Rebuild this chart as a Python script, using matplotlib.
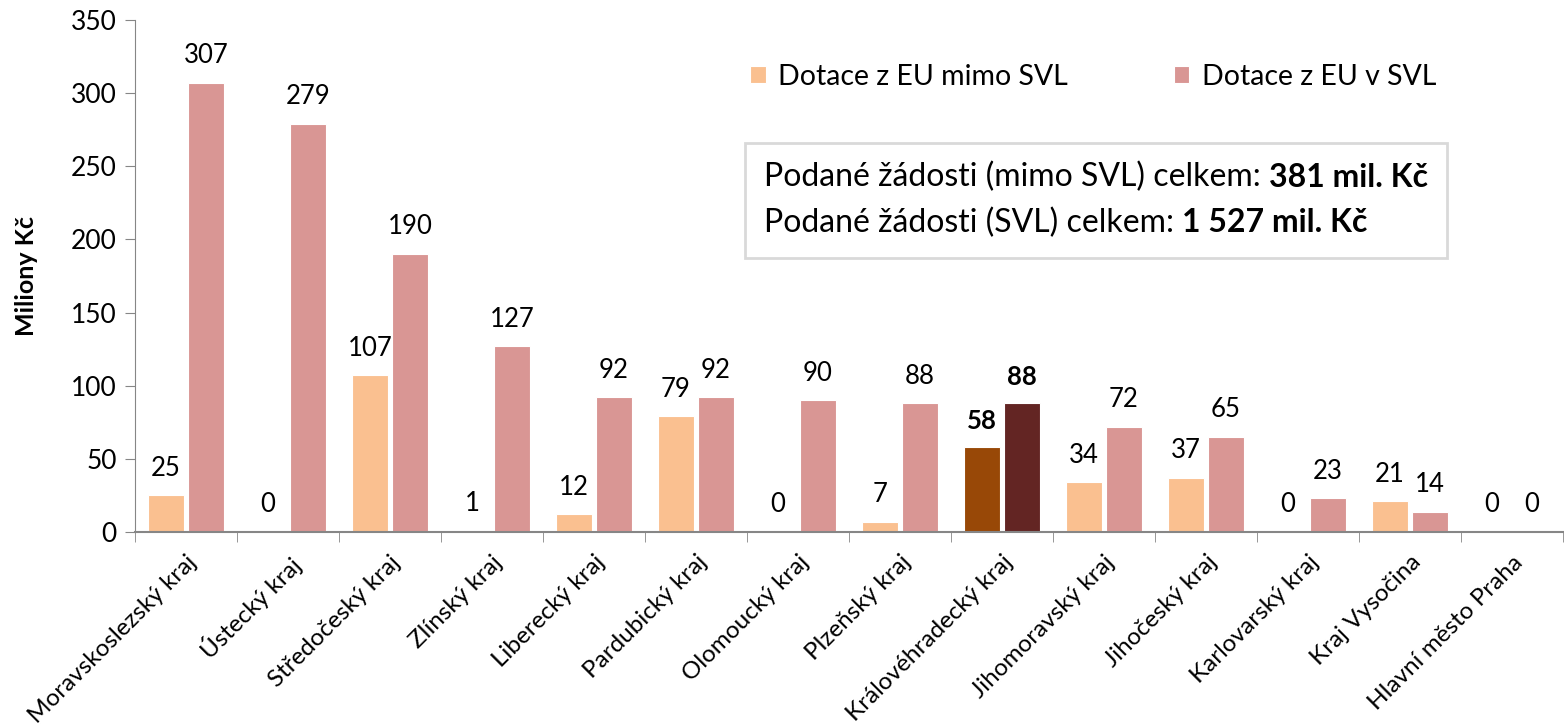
import matplotlib.pyplot as plt
import numpy as np
from matplotlib.offsetbox import TextArea, HPacker, VPacker, AnchoredOffsetbox

plt.rcParams['font.family'] = ['Lato', 'DejaVu Sans']

# Data
kraje = ['Moravskoslezský kraj', 'Ústecký kraj', 'Středočeský kraj', 'Zlínský kraj',
         'Liberecký kraj', 'Pardubický kraj', 'Olomoucký kraj', 'Plzeňský kraj',
         'Královéhradecký kraj', 'Jihomoravský kraj', 'Jihočeský kraj',
         'Karlovarský kraj', 'Kraj Vysočina', 'Hlavní město Praha']
mimo_svl = [25, 0, 107, 1, 12, 79, 0, 7, 58, 34, 37, 0, 21, 0]
v_svl = [307, 279, 190, 127, 92, 92, 90, 88, 88, 72, 65, 23, 14, 0]
zvyrazneny = 'Královéhradecký kraj'
celkem_mimo = '381 mil. Kč'
celkem_svl = '1 527 mil. Kč'

c_mimo, c_svl = '#FAC090', '#D99694'
c_mimo_hl, c_svl_hl = '#984807', '#632523'

fig = plt.figure(figsize=(15.64, 7.28), dpi=100)
ax = fig.add_axes([0.0863, 0.2692, 0.9130, 0.7033])

x = np.arange(len(kraje))
w = 0.355
off = 0.195
hl = kraje.index(zvyrazneny)
cols1 = [c_mimo_hl if i == hl else c_mimo for i in x]
cols2 = [c_svl_hl if i == hl else c_svl for i in x]
ax.bar(x - off, mimo_svl, w, color=cols1, edgecolor='white', linewidth=0.8,
       label='Dotace z EU mimo SVL')
ax.bar(x + off, v_svl, w, color=cols2, edgecolor='white', linewidth=0.8,
       label='Dotace z EU v SVL')

for i in x:
    weight = 'bold' if i == hl else 'normal'
    ax.text(i - off, mimo_svl[i] + 10, str(mimo_svl[i]), ha='center', va='bottom',
            fontsize=18.5, fontweight=weight)
    ax.text(i + off, v_svl[i] + 10, str(v_svl[i]), ha='center', va='bottom',
            fontsize=18.5, fontweight=weight)

ax.set_xlim(-0.5, len(kraje) - 0.5)
ax.set_ylim(0, 350)
ax.set_yticks(range(0, 351, 50))
ax.tick_params(axis='y', labelsize=19, length=7, color='#868686', direction='out', pad=6)

ax.set_xticks(x)
ax.set_xticklabels(kraje, rotation=45, ha='right', rotation_mode='anchor', fontsize=17.5)
ax.tick_params(axis='x', which='major', length=0, pad=14)
ax.set_xticks(np.arange(-0.5, len(kraje), 1), minor=True)
ax.tick_params(axis='x', which='minor', length=7, color='#868686', direction='out')

for s in ['top', 'right']:
    ax.spines[s].set_visible(False)
ax.spines['left'].set_color('#868686')
ax.spines['bottom'].set_color('#868686')
ax.spines['bottom'].set_linewidth(1.5)

ax.set_ylabel('Miliony Kč', fontsize=18, fontweight='bold', labelpad=24)

ax.legend(loc='center left', bbox_to_anchor=(0.4307, 0.889), ncol=2, frameon=False,
          fontsize=20.5, handlelength=0.55, handleheight=0.55, handletextpad=0.45,
          columnspacing=3.7, borderpad=0, borderaxespad=0)

# textovy ramecek se souhrnem
fs = 23
def radek(popis, hodnota):
    return HPacker(children=[TextArea(popis, textprops=dict(fontsize=fs)),
                             TextArea(hodnota, textprops=dict(fontsize=fs, fontweight='bold'))],
                   align='baseline', pad=0, sep=6)

obsah = VPacker(children=[radek('Podané žádosti (mimo SVL) celkem:', celkem_mimo),
                          radek('Podané žádosti (SVL) celkem:', celkem_svl)],
                align='left', pad=0, sep=11)
ramecek = AnchoredOffsetbox(loc='center left', child=obsah, pad=0.6, borderpad=0,
                            frameon=True, prop=dict(size=fs),
                            bbox_to_anchor=(0.427, 0.648), bbox_transform=ax.transAxes)
ramecek.patch.set_boxstyle('square', pad=0)
ramecek.patch.set_edgecolor('#D9D9D9')
ramecek.patch.set_linewidth(2)
ax.add_artist(ramecek)

plt.savefig('out.png', dpi=100)
